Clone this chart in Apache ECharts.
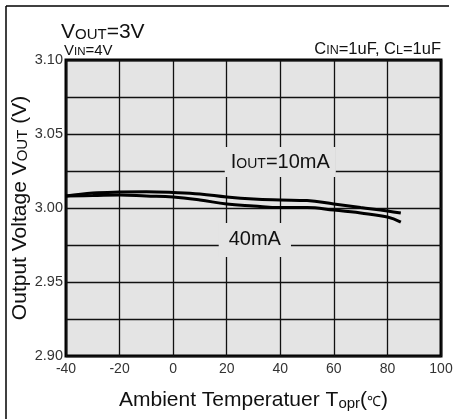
<!DOCTYPE html>
<html>
<head>
<meta charset="utf-8">
<script src="https://cdn.jsdelivr.net/npm/echarts@6/dist/echarts.min.js"></script>
<style>html,body{margin:0;padding:0;background:#fff}#c{width:456px;height:419px}</style>
</head>
<body>
<div id="c"></div>
<script>
var temps = [-40, -30, -20, -10, 0, 10, 20, 30, 40, 50, 60, 70, 80, 85];
var vout10mA = [3.0081, 3.0101, 3.0108, 3.0110, 3.0105, 3.0095, 3.0074, 3.0060, 3.0054, 3.0050, 3.0027, 3.0003, 2.9980, 2.9966];
var vout40mA = [3.0081, 3.0084, 3.0088, 3.0081, 3.0074, 3.0054, 3.0027, 3.0014, 3.0003, 3.0003, 2.9986, 2.9966, 2.9939, 2.9905];
var xTicks = {min: -40, max: 100, interval: 20};
var yTicks = {min: 2.90, max: 3.10, interval: 0.05};
var label10 = {t: 40, v: 3.031};
var label40 = {t: 30.5, v: 2.9784};

function pairs(xs, ys) { return xs.map(function (x, i) { return [x, ys[i]]; }); }

var font = 'Liberation Sans, Arial, sans-serif';
var chart = echarts.init(document.getElementById('c'), null, {renderer: 'canvas'});
chart.setOption({
  animation: false,
  textStyle: {fontFamily: font},
  grid: {left: 66, right: 15, top: 60, bottom: 63, containLabel: false, outerBoundsMode: 'none', show: true, backgroundColor: '#e4e4e4', borderColor: '#000', borderWidth: 3},
  xAxis: {
    type: 'value', min: xTicks.min, max: xTicks.max, interval: xTicks.interval,
    axisLine: {show: false}, axisTick: {show: false},
    splitLine: {show: true, lineStyle: {color: '#111', width: 1.3}},
    axisLabel: {color: '#333', fontSize: 14, fontFamily: font, margin: 6},
    name: 'Ambient Temperatuer T{s|opr}({c|℃})', nameLocation: 'middle', nameGap: 34, nameMoveOverlap: false,
    nameTextStyle: {color: '#111', fontSize: 21, fontFamily: font, rich: {s: {fontSize: 15, color: '#111', fontFamily: font, padding: [6, 0, 0, 0]}, c: {fontSize: 14, color: '#111', fontFamily: font, padding: [3, 0, 0, 0]}}}
  },
  yAxis: {
    type: 'value', min: yTicks.min, max: yTicks.max, interval: yTicks.interval,
    axisLine: {show: false}, axisTick: {show: false},
    splitLine: {show: true, lineStyle: {color: '#111', width: 1.3}},
    minorTick: {show: false, splitNumber: 2},
    minorSplitLine: {show: true, lineStyle: {color: '#111', width: 1.3}},
    axisLabel: {color: '#333', fontSize: 14.5, fontFamily: font, margin: 3, padding: [0, 0, 6, 0], formatter: function (v) { return v.toFixed(2); }},
    name: 'Output Voltage V{s|OUT} (V)', nameLocation: 'middle', nameGap: 35, nameMoveOverlap: false,
    nameTextStyle: {color: '#111', fontSize: 21, fontFamily: font, rich: {s: {fontSize: 15, color: '#111', fontFamily: font, padding: [5, 0, 0, 0]}}}
  },
  graphic: [
    {type: 'line', shape: {x1: 6, y1: 6, x2: 449, y2: 6}, style: {stroke: '#000', lineWidth: 1.5}},
    {type: 'line', shape: {x1: 6, y1: 6, x2: 6, y2: 419}, style: {stroke: '#000', lineWidth: 1.5}},
    {type: 'text', left: 61, top: 22, style: {rich: {b: {fontSize: 21, fill: '#111', fontFamily: font}, s: {fontSize: 15, fill: '#111', fontFamily: font, padding: [5, 0, 0, 0]}}, text: '{b|V}{s|OUT}{b|=3V}'}},
    {type: 'text', left: 64, top: 43, style: {rich: {b: {fontSize: 15, fill: '#111', fontFamily: font}, s: {fontSize: 11.5, fill: '#111', fontFamily: font, padding: [3, 0, 0, 0]}}, text: '{b|V}{s|IN}{b|=4V}'}},
    {type: 'text', right: 15, top: 41, style: {rich: {b: {fontSize: 16.5, fill: '#111', fontFamily: font}, s: {fontSize: 12.5, fill: '#111', fontFamily: font, padding: [3, 0, 0, 0]}}, text: '{b|C}{s|IN}{b|=1uF, C}{s|L}{b|=1uF}'}}
  ],
  series: [
    {
      type: 'line', data: pairs(temps, vout10mA), smooth: 0.4, symbol: 'none',
      lineStyle: {color: '#000', width: 3},
      markPoint: {symbol: 'rect', symbolSize: 1, itemStyle: {color: 'rgba(0,0,0,0)'},
        label: {show: true, position: 'inside', backgroundColor: '#e4e4e4', padding: [5, 6],
          formatter: '{b|I}{s|OUT}{b|=10mA}',
          rich: {b: {fontSize: 20, color: '#111', fontFamily: font}, s: {fontSize: 14, color: '#111', fontFamily: font, padding: [4, 0, 0, 0]}}},
        data: [{coord: [label10.t, label10.v]}]}
    },
    {
      type: 'line', data: pairs(temps, vout40mA), smooth: 0.4, symbol: 'none',
      lineStyle: {color: '#000', width: 3},
      markPoint: {symbol: 'rect', symbolSize: 1, itemStyle: {color: 'rgba(0,0,0,0)'},
        label: {show: true, position: 'inside', backgroundColor: '#e4e4e4', padding: [7, 10],
          formatter: '40mA', fontSize: 20, color: '#111', fontFamily: font},
        data: [{coord: [label40.t, label40.v]}]}
    }
  ]
});
</script>
</body>
</html>
